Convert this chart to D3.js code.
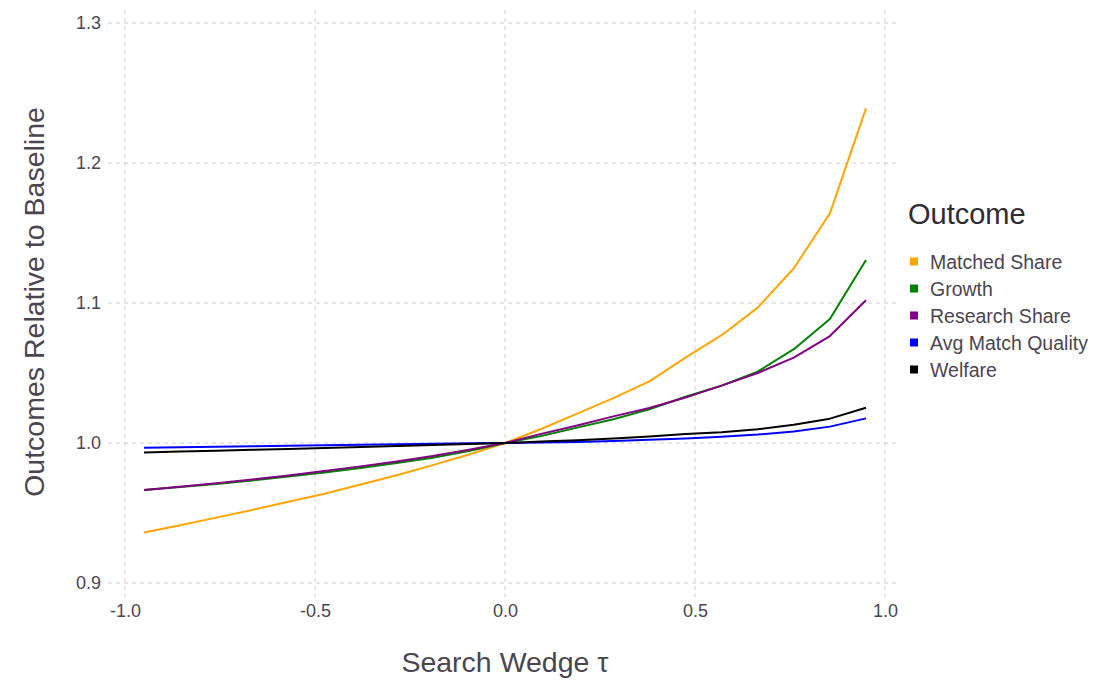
<!DOCTYPE html>
<html><head><meta charset="utf-8">
<script src="https://cdn.jsdelivr.net/npm/d3@7"></script>
<style>
body{margin:0;background:#fff;}
text{font-family:"Liberation Sans",Arial,Helvetica,sans-serif;}
</style></head>
<body><svg id="chart" width="1098" height="681"></svg>
<script>
const tau = [-0.95,-0.855,-0.76,-0.665,-0.57,-0.475,-0.38,-0.285,-0.19,-0.095,0,0.095,0.19,0.285,0.38,0.475,0.57,0.665,0.76,0.855,0.95];
const matchedShare = [0.936,0.9412,0.9467,0.9522,0.958,0.9638,0.9703,0.977,0.9842,0.9918,1.0,1.010,1.021,1.032,1.044,1.061,1.077,1.0967,1.1248,1.164,1.239];
const growth = [0.9664,0.9685,0.9708,0.9733,0.976,0.979,0.9822,0.9857,0.9895,0.9942,1.0,1.005,1.011,1.017,1.024,1.033,1.041,1.051,1.067,1.0886,1.1307];
const researchShare = [0.9664,0.9688,0.9713,0.974,0.9768,0.98,0.9833,0.9868,0.9907,0.9952,1.0,1.0065,1.0125,1.019,1.025,1.0325,1.041,1.050,1.061,1.0764,1.102];
const avgMatchQuality = [0.9966,0.9969,0.9973,0.9977,0.998,0.9984,0.9988,0.9991,0.9995,0.9998,1.0,1.0003,1.0008,1.0015,1.0023,1.0033,1.0045,1.006,1.0082,1.0117,1.0176];
const welfare = [0.9933,0.9939,0.9945,0.9951,0.9958,0.9964,0.9971,0.9978,0.9985,0.9993,1.0,1.001,1.002,1.0032,1.0047,1.0064,1.0076,1.0098,1.013,1.0174,1.0252];
const seriesNames = ["Matched Share","Growth","Research Share","Avg Match Quality","Welfare"];
const seriesColors = ["orange","green","purple","blue","black"];
const seriesValues = [matchedShare,growth,researchShare,avgMatchQuality,welfare];
const xTicks = [-1.0,-0.5,0.0,0.5,1.0];
const yTicks = [0.9,1.0,1.1,1.2,1.3];

const svg = d3.select("#chart");
const textColor = "#4b4550";
const x = d3.scaleLinear().domain([-1,1]).range([125,885]);
const y = d3.scaleLinear().domain([0.9,1.3]).range([583,23]);
const panel = {x0:108,x1:900,y0:10,y1:597};
const grid = svg.append("g");
yTicks.forEach(t=>{
  grid.append("line").attr("x1",panel.x0).attr("x2",panel.x1).attr("y1",y(t)).attr("y2",y(t))
    .attr("stroke","#cdcddb").attr("stroke-width",1).attr("stroke-dasharray","4,4");
});
xTicks.forEach(t=>{
  grid.append("line").attr("y1",panel.y0).attr("y2",panel.y1).attr("x1",x(t)).attr("x2",x(t))
    .attr("stroke","#cdcddb").attr("stroke-width",1).attr("stroke-dasharray","4,4");
});
const yAxis = svg.append("g").attr("transform",`translate(${panel.x0},0)`)
  .call(d3.axisLeft(y).tickValues(yTicks).tickFormat(d3.format(".1f")).tickSize(0).tickPadding(7));
const xAxis = svg.append("g").attr("transform",`translate(0,${panel.y1})`)
  .call(d3.axisBottom(x).tickValues(xTicks).tickFormat(d3.format(".1f")).tickSize(0).tickPadding(7));
[yAxis,xAxis].forEach(a=>{
  a.select(".domain").remove();
  a.selectAll("text").attr("fill",textColor).attr("font-size",18).attr("font-family",'"Liberation Sans",Arial,sans-serif');
});
xAxis.selectAll("text").text(d=>d<0?"-"+Math.abs(d).toFixed(1):d.toFixed(1));

const line = d3.line().x((d,i)=>x(tau[i])).y(d=>y(d));
seriesValues.forEach((vals,k)=>{
  svg.append("path").datum(vals).attr("d",line).attr("fill","none")
    .attr("stroke",seriesColors[k]).attr("stroke-width",2).attr("stroke-linejoin","round");
});
svg.append("text").attr("x",505).attr("y",672).attr("text-anchor","middle")
  .attr("font-size",28.5).attr("fill",textColor).text("Search Wedge τ");
svg.append("text").attr("transform","translate(44,302) rotate(-90)").attr("text-anchor","middle")
  .attr("font-size",28.5).attr("fill",textColor).text("Outcomes Relative to Baseline");

const lg = svg.append("g");
lg.append("text").attr("x",908).attr("y",224).attr("font-size",29).attr("fill","#2f2a33").text("Outcome");
seriesNames.forEach((n,i)=>{
  const yy = 262 + i*27;
  lg.append("rect").attr("x",910).attr("y",yy-4.5).attr("width",8).attr("height",8).attr("fill",seriesColors[i]);
  lg.append("text").attr("x",930).attr("y",yy+7).attr("font-size",19.5).attr("fill",textColor).text(n);
});
</script></body></html>
